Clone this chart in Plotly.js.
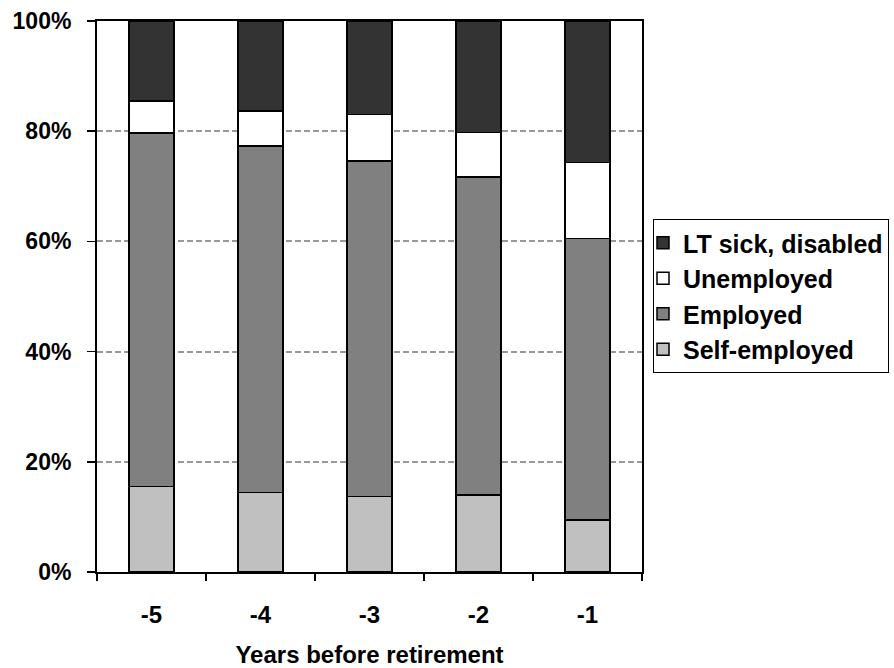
<!DOCTYPE html>
<html>
<head>
<meta charset="utf-8">
<script src="https://cdn.plot.ly/plotly-3.0.1.min.js"></script>
<style>html,body{margin:0;padding:0;background:#fff}#chart{width:894px;height:668px}</style>
</head>
<body>
<div id="chart"></div>
<script>
const categories = ["-5", "-4", "-3", "-2", "-1"];
const selfEmployed = [15.5, 14.4, 13.7, 14.0, 9.4];
const employed = [64.2, 62.9, 60.9, 57.7, 51.1];
const unemployed = [5.8, 6.4, 8.4, 8.1, 13.8];
const ltSick = [14.5, 16.3, 17.0, 20.2, 25.7];
const yTicks = [0, 20, 40, 60, 80, 100];

const fam = "Liberation Sans, Arial, sans-serif";
function bold(size) { return {family: fam, size: size, color: "#000", weight: "bold"}; }
function tr(name, y, color) {
  return {type: "bar", name: name, x: categories, y: y,
    marker: {color: color, line: {color: "#000", width: 1.5}}, hoverinfo: "skip"};
}
const data = [
  tr("Self-employed", selfEmployed, "#c0c0c0"),
  tr("Employed", employed, "#808080"),
  tr("Unemployed", unemployed, "#ffffff"),
  tr("LT sick, disabled", ltSick, "#333333")
];
const layout = {
  width: 894, height: 668,
  margin: {l: 97, r: 252, t: 21, b: 96},
  paper_bgcolor: "#fff", plot_bgcolor: "#fff",
  barmode: "stack", bargap: 0.59,
  font: bold(24),
  showlegend: true,
  legend: {xref: "container", yref: "container", x: 653 / 894, xanchor: "left",
    y: (668 - 296) / 668, yanchor: "middle", indentation: -11,
    traceorder: "reversed", bordercolor: "#000", borderwidth: 1,
    font: bold(25)},
  xaxis: {type: "category", showline: true, linecolor: "#000", linewidth: 2, mirror: true,
    ticks: "outside", tickson: "boundaries", ticklen: 7, tickwidth: 1.5, tickcolor: "#000",
    tickfont: bold(24),
    ticklabelstandoff: 20,
    title: {text: "Years before retirement", standoff: 22, font: bold(24)}},
  yaxis: {range: [0, 100], tickvals: yTicks, ticktext: yTicks.map(v => v + "%"),
    showline: true, linecolor: "#000", linewidth: 2, mirror: true,
    ticks: "outside", ticklen: 8, tickwidth: 1.5, tickcolor: "#000",
    showgrid: true, gridcolor: "#999999", gridwidth: 2, griddash: "6px,3px",
    ticklabelstandoff: 11,
    tickfont: bold(23)}
};
Plotly.newPlot("chart", data, layout, {displayModeBar: false, staticPlot: true});
</script>
</body>
</html>
